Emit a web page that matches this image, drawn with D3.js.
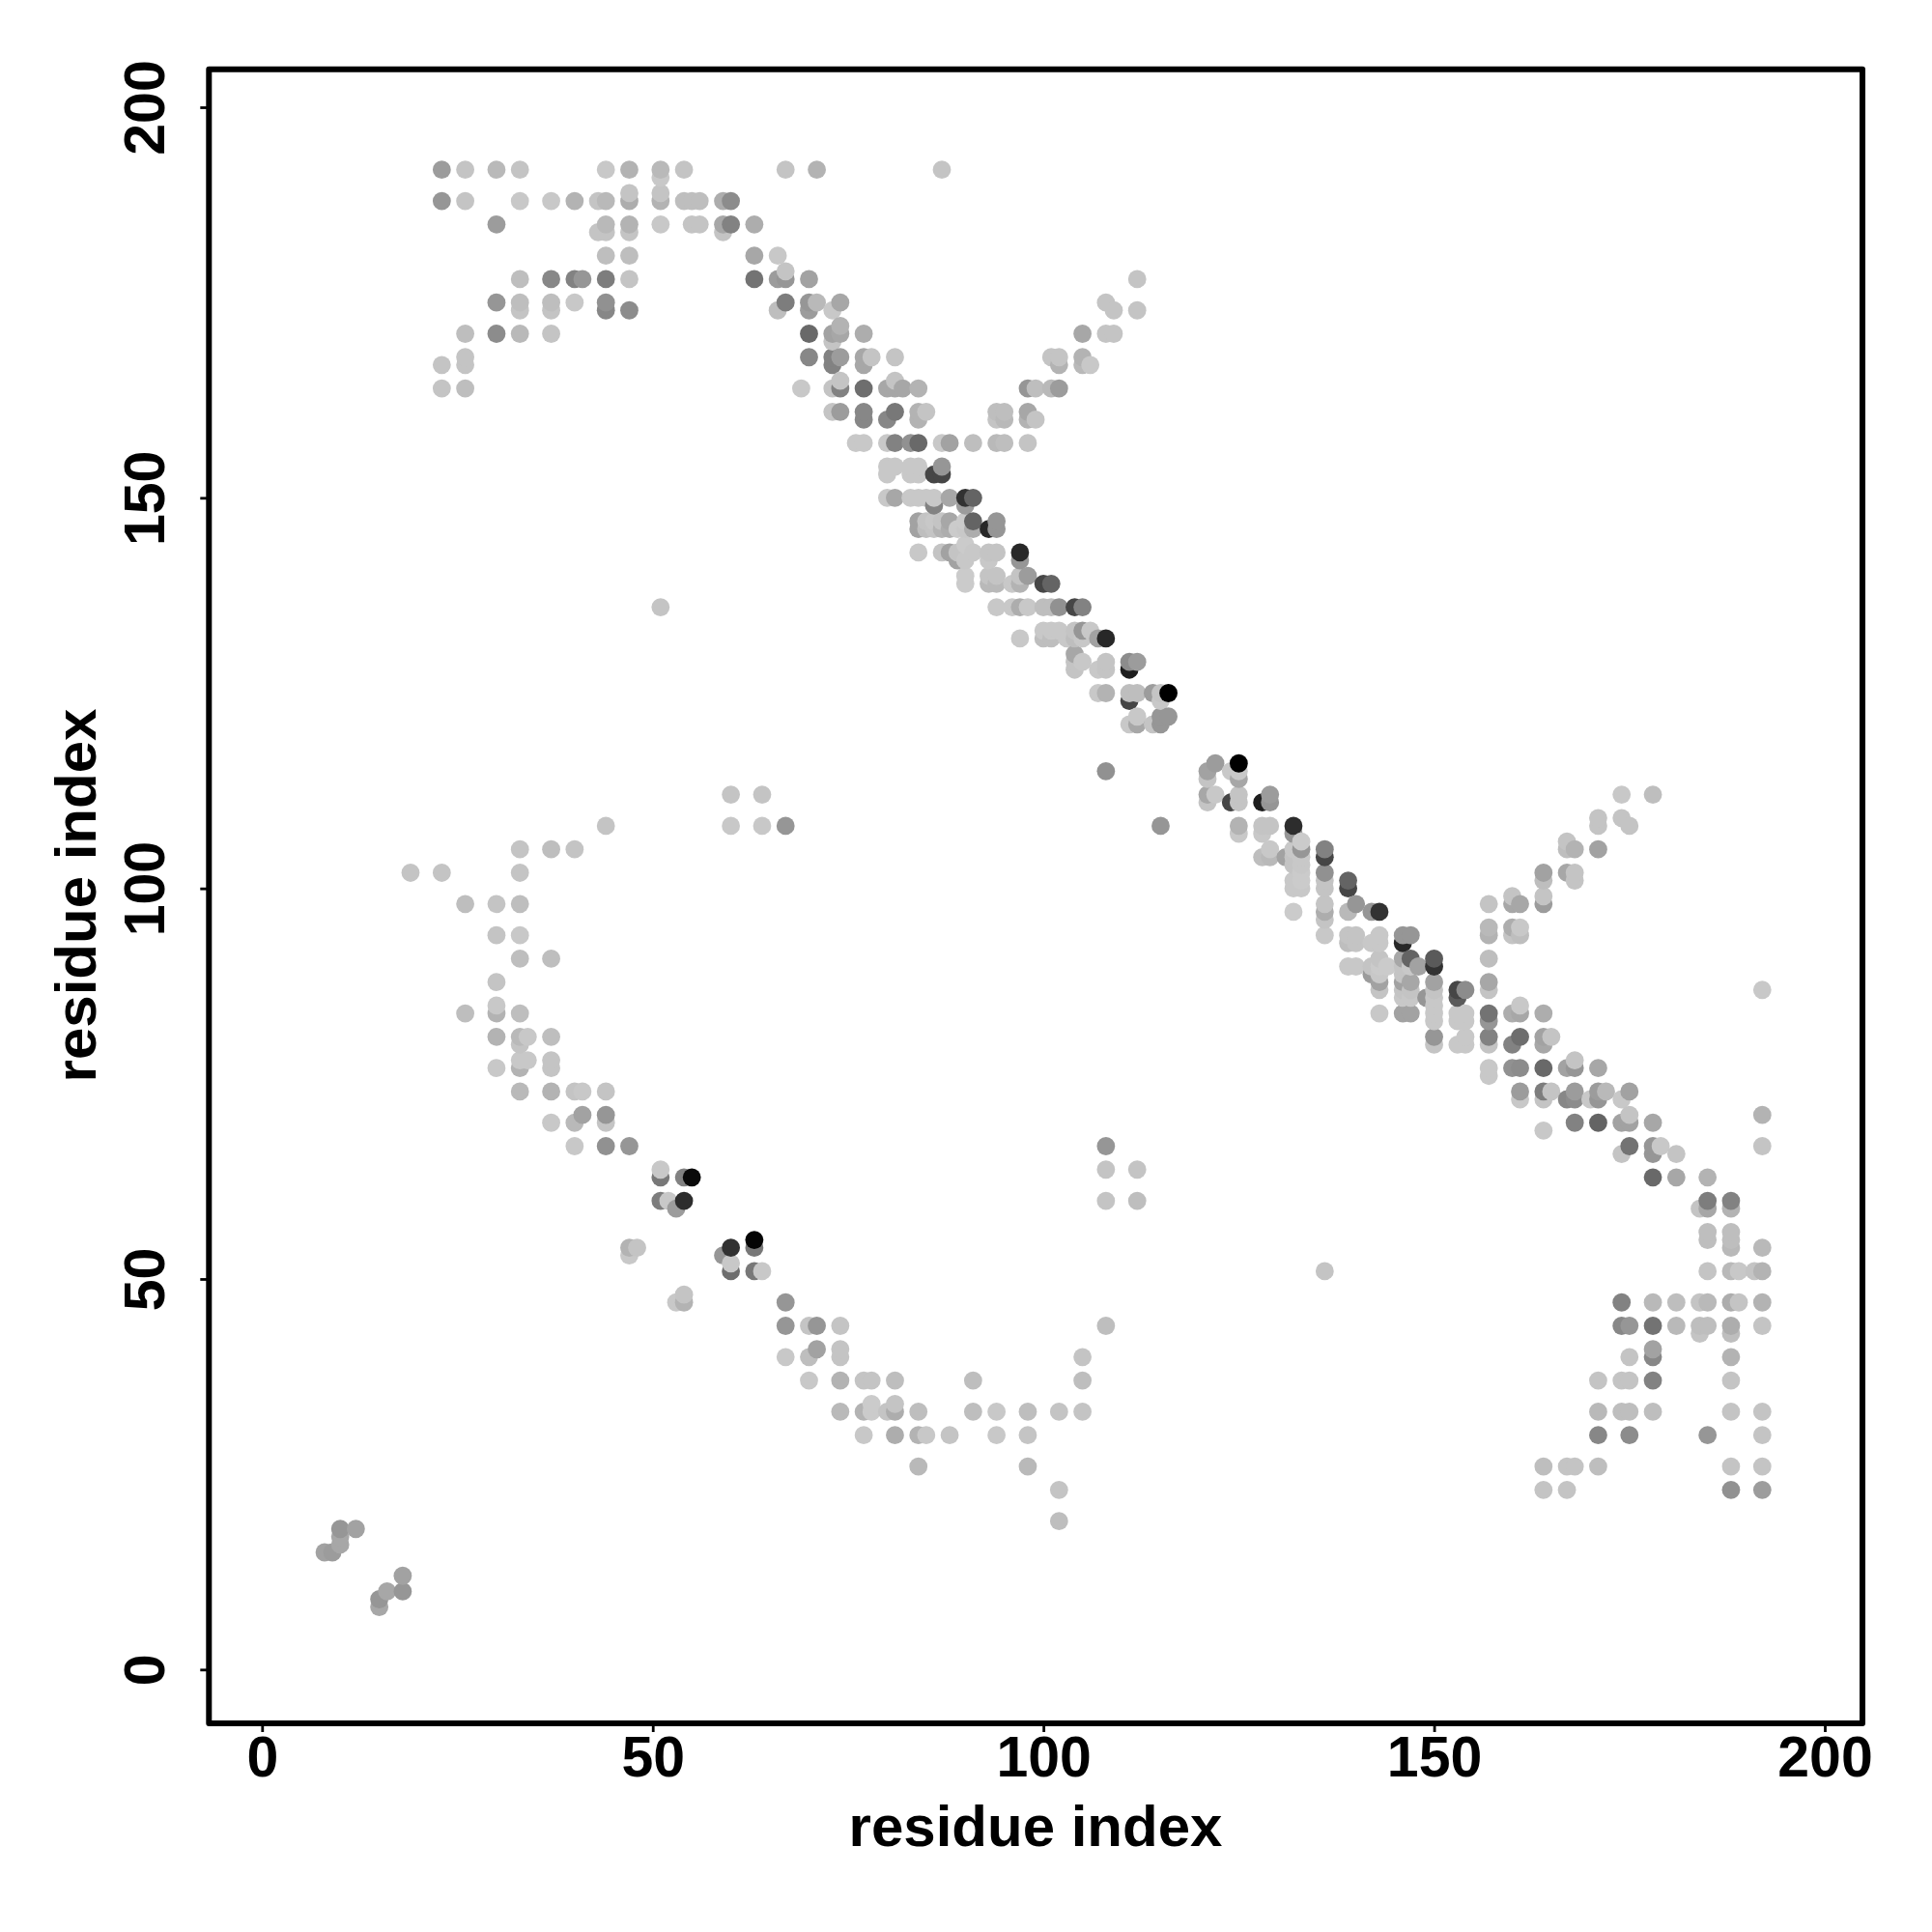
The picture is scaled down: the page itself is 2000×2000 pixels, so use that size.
<!DOCTYPE html>
<html>
<head>
<meta charset="utf-8">
<style>html,body{margin:0;padding:0;background:#fff}svg{display:block}</style>
<script src="https://cdn.jsdelivr.net/npm/d3@7/dist/d3.min.js"></script>
</head>
<body>
<script>
// Each contact is [residue x, residue y, shade]
const xTicks = [0, 50, 100, 150, 200];
const yTicks = [0, 50, 100, 150, 200];
const xLabel = "residue index";
const yLabel = "residue index";

const topLeftContacts = [
[23,192,155],[26,192,190],[30,192,180],[33,192,190],[44,192,195],[47,192,175],[51,192,180],[54,192,190],[67,192,190],[71,192,175],[87,192,190],
[51,191,195],[47,189,190],[51,189,190],
[23,188,150],[26,188,190],[33,188,195],[37,188,195],[40,188,175],[43,188,190],[44,188,180],[47,188,170],[51,188,175],[54,188,185],[55,188,185],[56,188,185],[59,188,170],[60,188,140],
[30,185,155],[44,185,180],[47,185,175],[51,185,195],[55,185,190],[56,185,190],[59,185,165],[60,185,130],[63,185,170],
[43,184,190],[44,184,190],[47,184,190],[59,184,190],
[44,181,185],[47,181,185],[63,181,165],[66,181,195],[67,179,190],
[33,178,185],[37,178,135],[40,178,130],[41,178,150],[44,178,125],[47,178,190],[63,178,115],[66,178,155],[67,178,150],[70,178,160],
[30,175,150],[33,175,185],[37,175,185],[40,175,195],[44,175,145],[67,175,125],[70,175,150],[71,175,180],[74,175,165],
[33,174,190],[37,174,190],[44,174,135],[47,174,140],[66,174,185],[70,174,155],[73,174,195],
[26,171,185],[30,171,140],[33,171,180],[37,171,190],[70,171,105],[73,171,160],[74,171,165],[77,171,170],[74,172,175],[73,170,190],
[26,168,190],[70,168,135],[23,167,190],[26,167,190],[23,164,190],[26,164,185]
];

const upperDiagonal = [
[73,168,130],[74,168,155],[77,168,165],[78,168,190],[81,168,190],[73,167,130],[77,167,165],
[69,164,195],[73,164,190],[74,165,190],[74,164,130],[77,164,110],[80,164,165],[81,164,165],[82,164,165],[81,165,190],[84,164,175],
[73,161,190],[74,161,155],[77,161,135],[77,160,135],[81,161,120],[80,160,135],[84,161,175],[85,161,190],[84,160,175],
[76,157,195],[77,157,195],[80,157,195],[81,157,130],[83,157,145],[84,157,105],[87,157,195],[88,157,160],
[80,154,195],[81,154,195],[83,154,195],[84,154,195],[87,154,150],[80,153,195],[83,153,195],[84,153,195],[86,153,70],[87,153,70],
[80,150,195],[81,150,165],[83,150,195],[84,150,195],[85,150,195],[86,150,195],[88,150,165],[90,150,50],[91,150,100],[86,149,130],[90,149,155],
[84,147,160],[85,147,190],[86,147,195],[87,147,190],[88,147,165],[90,147,200],[91,147,100],[94,147,150],
[84,146,160],[85,146,185],[86,146,190],[87,146,175],[88,146,170],[89,146,200],[90,146,195],[91,146,170],[93,146,40],[94,146,150],
[84,143,195],[87,143,190],[88,143,160],[89,143,190],[91,143,195],[93,143,190],[94,143,190],[97,143,40],
[90,144,200],[89,142,160],[90,142,195],[93,142,195],[97,142,150],
[90,140,200],[93,140,190],[94,140,190],[97,140,190],[98,140,155],
[90,139,200],[93,139,180],[94,139,180],[96,139,195],[97,139,175],[100,139,70],[101,139,100],
[94,136,195],[96,136,195],[97,136,170],[98,136,195],[100,136,185],[101,136,185],[102,136,145],[104,136,70],[105,136,130],
[100,133,195],[101,133,195],[102,133,195],[104,133,190],[105,133,150],[106,133,195],
[97,132,195],[100,132,185],[101,132,185],[103,132,195],[104,132,185],[105,132,195],[107,132,160],[108,132,40],
[104,130,165],[104,129,190],[105,129,195],[108,129,190],[111,129,140],[112,129,155],[104,128,190],[107,128,195],[108,128,190],[111,128,30],
[107,125,195],[108,125,175],[111,125,185],[112,125,185],[114,125,155],[115,125,190],[116,125,0],[111,124,70],[115,124,195],
[112,122,195],[115,122,150],[116,122,150],[111,121,195],[112,121,165],[114,121,190],[115,121,150]
];

const crossBranchUpper = [
[112,178,190],[112,174,190],[108,175,190],[109,174,190],[105,171,165],[108,171,190],[109,171,190],
[101,168,190],[102,168,190],[102,167,175],[105,168,175],[105,167,180],[106,167,195],
[98,164,150],[99,164,185],[101,164,180],[102,164,155],
[94,161,185],[95,161,185],[94,160,190],[95,160,180],[98,161,165],[98,160,175],[99,160,190],
[91,157,185],[94,157,180],[95,157,185],[98,157,190]
];

const lowerDiagonal = [
[122,116,155],[121,115,160],[121,114,190],[124,115,195],[125,116,0],[125,115,195],[125,114,165],
[121,112,165],[122,112,195],[121,111,190],[124,111,70],[125,112,190],[125,111,190],
[128,111,30],[129,112,155],[129,111,150],
[125,108,175],[125,107,195],[128,108,190],[129,108,190],[128,107,195],[132,108,45],[132,107,150],
[129,105,195],[128,104,185],[129,104,180],[131,104,160],[132,105,195],[132,104,190],[133,106,200],[133,105,150],[133,104,195],
[136,105,130],[136,104,70],[136,102,145],[136,101,190],[136,100,190],[132,103,190],[133,103,195],[132,101,195],[132,100,195],[133,102,200],[133,101,200],[133,100,195],[132,97,200],
[139,101,100],[139,100,70],[140,98,150],[139,97,180],[136,98,190],[136,97,170],[136,96,190],[136,94,195],
[142,97,150],[143,97,50],[139,94,190],[140,94,190],[139,93,185],[140,93,190],[142,93,195],[143,94,195],[143,93,195],
[146,94,150],[147,94,150],[146,93,40],
[139,90,195],[140,90,195],[142,90,190],[143,91,190],[144,90,200],[143,90,200],[142,89,155],[143,89,195],[143,88,160],[143,87,190],[143,84,195],
[146,91,165],[147,91,100],[146,90,190],[147,90,195],[146,89,190],[146,88,160],[147,88,165],[146,87,190],[147,87,190],[146,86,195],[147,86,195],[146,84,160],[147,84,160],
[148,90,160],[150,91,90],[150,90,50],[150,88,160],[149,86,150],[150,87,190],[150,86,195],[150,85,195],[150,84,195],[150,83,195],[150,81,150],[150,80,190],
[153,87,70],[154,87,140],[153,86,90],[153,84,195],[154,84,195],[153,83,195],[154,83,195],[153,80,195],[154,81,195],[154,80,195],
[157,88,165],[157,87,190],[157,84,115],[157,83,150],[157,81,130],[157,80,190],
[160,84,170],[161,84,165],[161,85,195],[164,84,170],[160,80,130],[161,81,110],[164,81,160],[164,80,165],[165,81,190],
[157,77,195],[157,76,195],[160,77,145],[161,77,140],[164,77,105],[167,77,160],[168,77,150],[168,78,190],[171,77,165],
[161,74,155],[161,73,195],[164,74,125],[165,74,190],[164,73,190],[167,73,135],[168,74,155],[168,73,140],[170,73,195],[171,74,155],[172,74,180],[171,73,150],[174,73,195],[175,74,160],
[168,70,130],[171,70,100],[174,70,160],[175,70,160],[178,70,165],[175,71,190],[164,69,195],
[175,67,115],[178,67,150],[179,67,195],[174,66,190],[178,66,150],[181,66,190],[178,63,105],[181,63,165],[185,63,175],
[185,60,125],[188,60,130],[184,59,190],[185,59,165],[188,59,175],[185,56,185],[188,56,185],[185,55,185],[188,55,185],[188,54,180]
];

const crossBranchLower = [
[174,112,195],[178,112,185],[171,109,190],[171,108,190],[174,109,190],[175,108,190],[167,106,190],[167,105,185],[168,105,175],[171,105,160],
[164,102,160],[164,101,185],[167,102,165],[168,102,190],[168,101,190],
[164,99,190],[164,98,155],[160,99,190],[160,98,165],[161,98,165],[157,98,190],
[157,95,180],[157,94,175],[160,95,170],[160,94,190],[161,95,195],[161,94,185],[157,91,185]
];

const bottomRightContacts = [
[192,87,195],[192,71,175],[192,67,190],[192,54,180],
[185,51,190],[188,51,180],[189,51,195],[191,51,190],[192,51,175],
[174,47,130],[178,47,180],[181,47,185],[184,47,190],[185,47,180],[188,47,170],[189,47,190],[192,47,175],
[174,44,135],[175,44,150],[178,44,115],[181,44,180],[184,44,185],[185,44,185],[188,44,170],[192,44,190],[184,43,190],[188,43,185],
[178,41,160],[178,40,135],[175,40,190],[188,40,175],
[171,37,190],[174,37,190],[175,37,190],[178,37,130],[188,37,190],
[171,33,180],[174,33,185],[175,33,185],[178,33,185],[188,33,190],[192,33,190],
[171,30,135],[175,30,140],[185,30,150],[192,30,190],
[164,26,185],[167,26,190],[168,26,190],[171,26,185],[188,26,190],[192,26,190],
[164,23,190],[167,23,190],[188,23,145],[192,23,155]
];

const leftArcContacts = [
[44,108,190],[60,112,190],[64,112,190],[60,108,195],[64,108,195],[67,108,150],
[33,105,190],[37,105,185],[40,105,190],[19,102,190],[23,102,190],[33,102,190],
[26,98,185],[30,98,190],[33,98,185],[30,94,190],[33,94,195],[33,91,185],[37,91,185],[30,88,190],[30,85,195],
[26,84,185],[30,84,175],[33,84,185],[30,81,175],[33,81,180],[34,81,195],[37,81,185],[33,80,190],
[33,78,195],[34,78,195],[37,78,190],[30,77,195],[33,77,175],[37,77,190],
[33,74,180],[37,74,175],[40,74,190],[41,74,195],[44,74,190],[41,71,160],[44,71,150],[37,70,195],[40,70,180],[44,70,190],
[40,67,195],[44,67,145],[47,67,150]
];

const lowerArcContacts = [
[51,64,195],[51,63,120],[54,63,130],[55,63,10],[51,60,125],[52,60,195],[54,60,45],[53,59,155],
[47,54,175],[48,54,190],[47,53,195],[60,54,50],[63,55,5],[63,54,120],[59,53,150],[60,52,195],[60,51,110],[63,51,120],[64,51,195],
[53,47,195],[54,48,190],[54,47,175],
[67,47,150],[67,44,150],[70,44,190],[71,44,150],[74,44,190],[71,41,160],[74,41,190],[67,40,195],[70,40,185],[74,40,190],
[70,37,195],[74,37,175],[77,37,190],[78,37,190],[81,37,185],[91,37,185],[105,37,185],[105,40,190],
[78,34,200],[81,34,190],[74,33,180],[77,33,175],[78,33,200],[80,33,190],[81,33,170],[84,33,185],[91,33,185],[94,33,195],[98,33,185],[102,33,190],[105,33,190],
[77,30,195],[81,30,170],[84,30,175],[85,30,195],[88,30,190],[94,30,195],[98,30,190],[84,26,180],[98,26,180],[102,23,190],[102,19,185]
];

const isolatedContacts = [
[51,136,190],[108,115,145],[115,108,150],[136,51,190],[108,67,150],[108,64,190],[112,64,190],[108,60,190],[112,60,185],[108,44,185]
];

const nearDiagonalStart = [
[8,15,160],[9,15,155],[10,16,165],[10,17,165],[10,18,150],[12,18,160],
[15,8,165],[15,9,150],[16,10,165],[18,10,150],[18,12,160]
];

const contacts = [].concat(topLeftContacts, upperDiagonal, crossBranchUpper, lowerDiagonal, crossBranchLower,
  bottomRightContacts, leftArcContacts, lowerArcContacts, isolatedContacts, nearDiagonalStart)
  .sort((a, b) => d3.ascending(a[0], b[0]) || d3.ascending(a[1], b[1]));

const W = 2000, H = 2000;
const svg = d3.select("body").append("svg").attr("width", W).attr("height", H).style("background", "#fff");
const font = "'Liberation Sans', Arial, Helvetica, sans-serif";

const x = d3.scaleLinear().domain([0, 200]).range([271.3, 1889]);
const y = d3.scaleLinear().domain([0, 200]).range([1728.3, 111]);
const shade = d3.scaleLinear().domain([0, 150, 190, 200]).range([0, 150, 196, 203]);
const frame = {left: 216.3, right: 1928, top: 71.7, bottom: 1784};

svg.append("g").selectAll("circle").data(contacts).join("circle")
  .attr("cx", d => x(d[0])).attr("cy", d => y(d[1])).attr("r", 9.4)
  .attr("fill", d => { const g = Math.round(shade(d[2])); return d3.rgb(g, g, g); });

svg.append("rect").attr("x", frame.left).attr("y", frame.top)
  .attr("width", frame.right - frame.left).attr("height", frame.bottom - frame.top)
  .attr("fill", "none").attr("stroke", "#000").attr("stroke-width", 6).attr("stroke-linejoin", "round");

const gx = svg.append("g").attr("transform", `translate(0,${frame.bottom})`)
  .call(d3.axisBottom(x).tickValues(xTicks).tickSize(9).tickFormat(d3.format("d")));
const gy = svg.append("g").attr("transform", `translate(${frame.left},0)`)
  .call(d3.axisLeft(y).tickValues(yTicks).tickSize(9).tickFormat(d3.format("d")));
[gx, gy].forEach(g => {
  g.select(".domain").remove();
  g.selectAll(".tick line").attr("stroke", "#000").attr("stroke-width", 2.8);
  g.selectAll(".tick text").attr("fill", "#000").style("font-family", font)
    .style("font-size", "59px").style("font-weight", "700");
});
gx.selectAll(".tick text").attr("y", 55).attr("dy", 0).attr("text-anchor", "middle");
gy.selectAll(".tick text").attr("x", 0).attr("dy", 0).attr("text-anchor", "middle")
  .attr("transform", "translate(-46,0) rotate(-90)");

svg.append("text").text(xLabel).attr("x", 1072).attr("y", 1911).attr("text-anchor", "middle")
  .style("font-family", font).style("font-size", "60px").style("font-weight", "700");
svg.append("text").text(yLabel).attr("transform", "translate(99,927) rotate(-90)").attr("text-anchor", "middle")
  .style("font-family", font).style("font-size", "60px").style("font-weight", "700");
</script>
</body>
</html>
